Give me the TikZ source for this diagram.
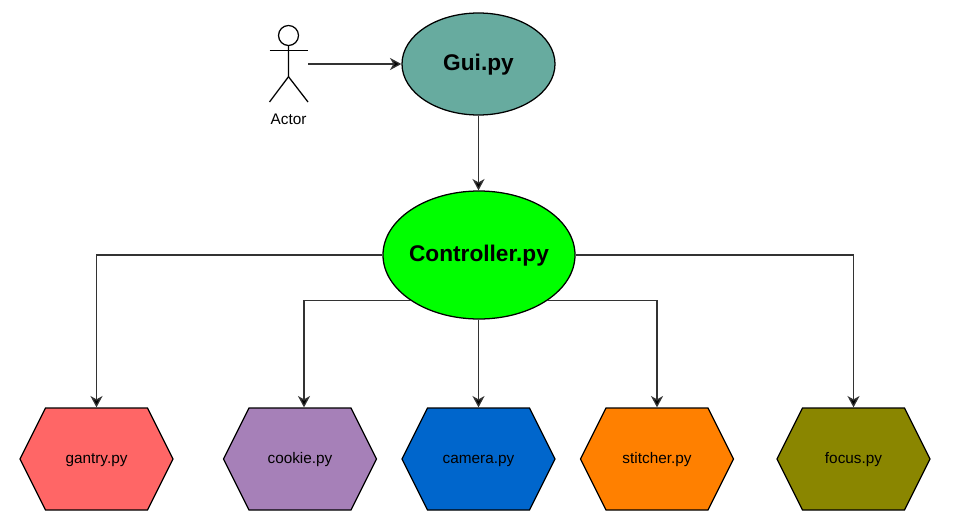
\documentclass[tikz,border=0pt]{standalone}
\usepackage{fontspec}
\setmainfont{Liberation Sans}
\usetikzlibrary{arrows.meta,shapes.symbols,shapes.geometric}
\definecolor{guicol}{HTML}{67AB9F}
\definecolor{ctrlcol}{HTML}{00FF00}
\definecolor{gantrycol}{HTML}{FF6666}
\definecolor{cookiecol}{HTML}{A680B8}
\definecolor{cameracol}{HTML}{0066CC}
\definecolor{stitchcol}{HTML}{FF8000}
\definecolor{focuscol}{HTML}{8A8600}
\tikzset{
  oval/.style={draw, ellipse, line width=0.95pt, inner ysep=0pt, inner xsep=-3pt, text height=14.5pt, text depth=4.5pt, font=\fontsize{17}{20}\selectfont\bfseries},
  hexa/.style={draw, signal, signal to=west and east, signal pointer angle=126.87,
    minimum width=114.75pt, minimum height=76.5pt, inner sep=0pt, line width=0.95pt,
    text height=10pt, text depth=2.9pt, font=\fontsize{11.5}{13}\selectfont},
  conn/.style={-{Stealth[length=8.5pt,width=9pt,inset=2.5pt,fill=black]}, line width=0.95pt, black!80}
}
\begin{document}
\begin{tikzpicture}[x=0.75pt, y=-0.75pt]
            \useasboundingbox (0,0) rectangle (973,528);

            \node[oval, fill=guicol, minimum width=114.75pt, minimum height=76.5pt] (gui) at (478.5, 64) {Gui.py};
            \node[oval, fill=ctrlcol, minimum width=144pt, minimum height=96pt] (ctrl) at (479, 255) {Controller.py};

            \node[hexa, fill=gantrycol] (gantry) at (96.5, 459) {gantry.py};
            \node[hexa, fill=cookiecol] (cookie) at (300, 459) {cookie.py};
            \node[hexa, fill=cameracol] (camera) at (478.5, 459) {camera.py};
            \node[hexa, fill=stitchcol] (stitcher) at (657, 459) {stitcher.py};
            \node[hexa, fill=focuscol] (focus) at (853.5, 459) {focus.py};

            % stick figure
            \node[minimum width=29pt, minimum height=57pt, inner sep=0pt] (actor) at (288.5, 64) {};
            \draw[line width=0.95pt] (288.5, 35.5) circle (7.5pt);
            \draw[line width=0.95pt] (269.5, 50.7) -- (308, 50.7);
            \draw[line width=0.95pt] (288.5, 45.5) -- (288.5, 76.7) -- (269.5, 102);
            \draw[line width=0.95pt] (288.5, 76.7) -- (308, 102);
            \node[text height=10pt, text depth=2.9pt, font=\fontsize{11.5}{13}\selectfont] (actorlabel) at (288.5, 120) {Actor};

            \draw[conn] (actor.east) -- (gui.west);
            \draw[conn] (gui.south) -- (gui.south |- ctrl.north);
            \draw[conn] (ctrl.west) -| (gantry.north);
            \draw[conn] (ctrl.south west) -| ([xshift=3pt]cookie.north);
            \draw[conn] (ctrl.south -| camera.north) -- (camera.north);
            \draw[conn] (ctrl.south east) -| (stitcher.north);
            \draw[conn] (ctrl.east) -| (focus.north);
        \end{tikzpicture}
\end{document}
